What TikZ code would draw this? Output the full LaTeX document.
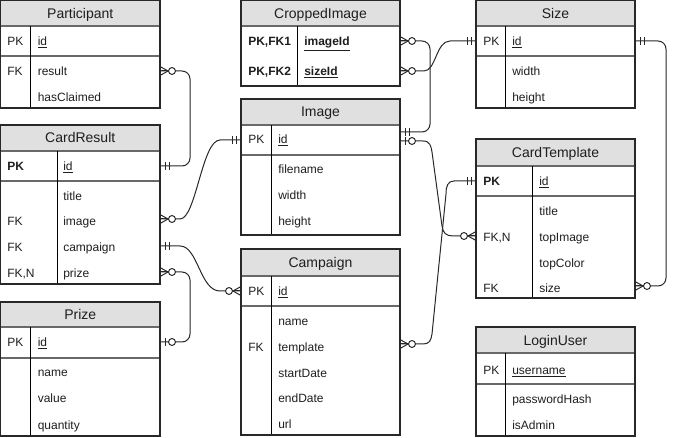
\documentclass[tikz,border=0pt]{standalone}
\usepackage{fontspec}
\setmainfont{Liberation Sans}
\usetikzlibrary{calc}
\definecolor{hdrfill}{RGB}{224,224,224}
\definecolor{edgec}{RGB}{40,40,40}
\definecolor{txtc}{RGB}{30,30,30}
\definecolor{sepc}{RGB}{105,105,105}
\tikzset{
 outl/.style={draw=edgec, line width=0.8pt},
 sepl/.style={draw=sepc, line width=1.1pt},
 divl/.style={draw=black, line width=0.75pt},
 hdrt/.style={anchor=base, font=\fontsize{10.5}{12}\selectfont, text=txtc, inner sep=0pt, yshift=-3.75pt},
 keyt/.style={anchor=base west, font=\fontsize{9}{11}\selectfont, text=txtc, inner sep=0pt, yshift=-3.4pt},
 fldt/.style={keyt},
 conn/.style={draw=edgec, line width=0.75pt},
 elbow/.style={conn, rounded corners=6pt},
 mk/.style={draw=edgec, line width=0.75pt},
}
\newcommand\erbox[9]{%
 \fill[hdrfill] (#2,#4) rectangle (#3,#5);
 \node[hdrt] (#1) at ({(#2+#3)/2},{(#4+#5)/2}) {#9};
 \draw[sepl] (#2,#5) -- (#3,#5);
 \draw[sepl] (#2,#6) -- (#3,#6);
 \draw[divl] (#8,#5) -- (#8,#7);
 \draw[outl] (#2,#4) rectangle (#3,#7);
}
\newcommand\fieldrow[6]{\node[keyt] (#1k) at (#2,#4) {#5}; \node[fldt] (#1f) at (#3,#4) {#6};}
\newcommand\mOne[2]{\draw[mk] ($(#1)+(#2*5,-4)$) -- ++(0,8) ($(#1)+(#2*9,-4)$) -- ++(0,8);}
\newcommand\zMany[2]{\draw[mk] ($(#1)+(0,-4.5)$) -- ($(#1)+(#2*8,0)$) -- ($(#1)+(0,4.5)$); \draw[mk] (#1) -- ($(#1)+(#2*8,0)$); \draw[mk,fill=white] ($(#1)+(#2*12,0)$) circle[radius=2.6pt];}
\newcommand\zOne[2]{\draw[mk] ($(#1)+(#2*5,-4)$) -- ++(0,8); \draw[mk,fill=white] ($(#1)+(#2*12,0)$) circle[radius=2.6pt];}
\begin{document}
\begin{tikzpicture}[x=0.75pt,y=-0.75pt]
\useasboundingbox (0,0) rectangle (675,438);
% Participant
\erbox{part}{0.5}{160}{0.5}{26}{56}{108}{30.5}{Participant}
\fieldrow{p1}{7}{37.5}{41}{PK}{\underline{id}}
\fieldrow{p2}{7}{37.5}{71}{FK}{result}
\fieldrow{p3}{7}{37.5}{97}{}{hasClaimed}
% CardResult
\erbox{cres}{0.5}{160}{125}{151}{181}{284}{57}{CardResult}
\fieldrow{c1}{7}{63}{166}{\textbf{PK}}{\underline{id}}
\fieldrow{c2}{7}{63}{196}{}{title}
\fieldrow{c3}{7}{63}{221}{FK}{image}
\fieldrow{c4}{7}{63}{247}{FK}{campaign}
\fieldrow{c5}{7}{63}{273}{FK,N}{prize}
% Prize
\erbox{prize}{0.5}{160}{302}{327}{358}{436}{30.5}{Prize}
\fieldrow{r1}{7}{37.5}{342}{PK}{\underline{id}}
\fieldrow{r2}{7}{37.5}{372}{}{name}
\fieldrow{r3}{7}{37.5}{398}{}{value}
\fieldrow{r4}{7}{37.5}{425}{}{quantity}
% CroppedImage
\erbox{crop}{241}{400}{0.5}{26}{86}{86}{297}{CroppedImage}
\fieldrow{k1}{248}{304}{41}{\textbf{PK,FK1}}{\textbf{\underline{imageId}}}
\fieldrow{k2}{248}{304}{71}{\textbf{PK,FK2}}{\textbf{\underline{sizeId}}}
% Image
\erbox{img}{241}{400}{99}{125}{155}{235}{271}{Image}
\fieldrow{i1}{248}{278}{139}{PK}{\underline{id}}
\fieldrow{i2}{248}{278}{169}{}{filename}
\fieldrow{i3}{248}{278}{195}{}{width}
\fieldrow{i4}{248}{278}{221}{}{height}
% Campaign
\erbox{camp}{241}{400}{249}{276}{306}{435}{271}{Campaign}
\fieldrow{m1}{248}{278}{291}{PK}{\underline{id}}
\fieldrow{m2}{248}{278}{321}{}{name}
\fieldrow{m3}{248}{278}{347}{FK}{template}
\fieldrow{m4}{248}{278}{373}{}{startDate}
\fieldrow{m5}{248}{278}{398}{}{endDate}
\fieldrow{m6}{248}{278}{424}{}{url}
% Size
\erbox{size}{476}{635}{0.5}{26}{56}{108}{505}{Size}
\fieldrow{s1}{483}{512}{41}{PK}{\underline{id}}
\fieldrow{s2}{483}{512}{71}{}{width}
\fieldrow{s3}{483}{512}{97}{}{height}
% CardTemplate
\erbox{ctpl}{476}{635}{139}{166}{196}{298}{532}{CardTemplate}
\fieldrow{t1}{483}{539}{181}{\textbf{PK}}{\underline{id}}
\fieldrow{t2}{483}{539}{211}{}{title}
\fieldrow{t3}{483}{539}{237}{FK,N}{topImage}
\fieldrow{t4}{483}{539}{263}{}{topColor}
\fieldrow{t5}{483}{539}{288}{FK}{size}
% LoginUser
\erbox{login}{476}{635}{327}{353}{384}{436}{505}{LoginUser}
\fieldrow{u1}{483}{512}{370}{PK}{\underline{username}}
\fieldrow{u2}{483}{512}{399}{}{passwordHash}
\fieldrow{u3}{483}{512}{425}{}{isAdmin}
% connector end points
\coordinate (pRes) at (160,71);
\coordinate (crId) at (160,166);
\coordinate (crImg) at (160,219);
\coordinate (crCamp) at (160,246);
\coordinate (crPrize) at (160,272);
\coordinate (prId) at (160,342);
\coordinate (imgIdL) at (241,140);
\coordinate (campIdL) at (241,291);
\coordinate (cpImg) at (400,41);
\coordinate (cpSize) at (400,71);
\coordinate (imgIdR1) at (400,132);
\coordinate (imgIdR2) at (400,141);
\coordinate (szIdL) at (476,41);
\coordinate (szIdR) at (635,41);
\coordinate (ctIdL) at (476,181);
\coordinate (ctTop) at (476,236);
\coordinate (ctSize) at (635,286);
\coordinate (campTpl) at (400,344);
% connectors
\draw[elbow] (pRes) -| (190,166) -- (crId);
\draw[elbow] (crPrize) -| (190,342) -- (prId);
\draw[elbow] (cpImg) -| (430,132) -- (imgIdR1);
\draw[elbow] (szIdR) -| (666,286) -- (ctSize);
\draw[conn] (crImg) -- (180,219) .. controls (196,219) and (202,140) .. (220,140) -- (imgIdL);
\draw[conn] (crCamp) -- (180,246) .. controls (198,246) and (200,291) .. (220,291) -- (campIdL);
\draw[conn] (cpSize) -- (424,71) .. controls (436,71) and (436,41) .. (450,41) -- (szIdL);
\draw[conn] (imgIdR2) -- (423,141) .. controls (430,141) and (431,146) .. (432,152) -- (442,226) .. controls (443,233) and (446,236) .. (453,236) -- (ctTop);
\draw[conn] (ctIdL) -- (454,181) .. controls (448,181) and (446,186) .. (446,194) -- (432,334) .. controls (431,341) and (429,344) .. (423,344) -- (campTpl);
% markers
\zMany{pRes}{1} \mOne{crId}{1}
\zMany{crImg}{1} \mOne{imgIdL}{-1}
\mOne{crCamp}{1} \zMany{campIdL}{-1}
\zMany{crPrize}{1} \zOne{prId}{1}
\zMany{cpImg}{1} \mOne{imgIdR1}{1}
\zMany{cpSize}{1} \mOne{szIdL}{-1}
\zOne{imgIdR2}{1} \zMany{ctTop}{-1}
\mOne{ctIdL}{-1} \zMany{campTpl}{1}
\mOne{szIdR}{1} \zMany{ctSize}{1}
\end{tikzpicture}
\end{document}
